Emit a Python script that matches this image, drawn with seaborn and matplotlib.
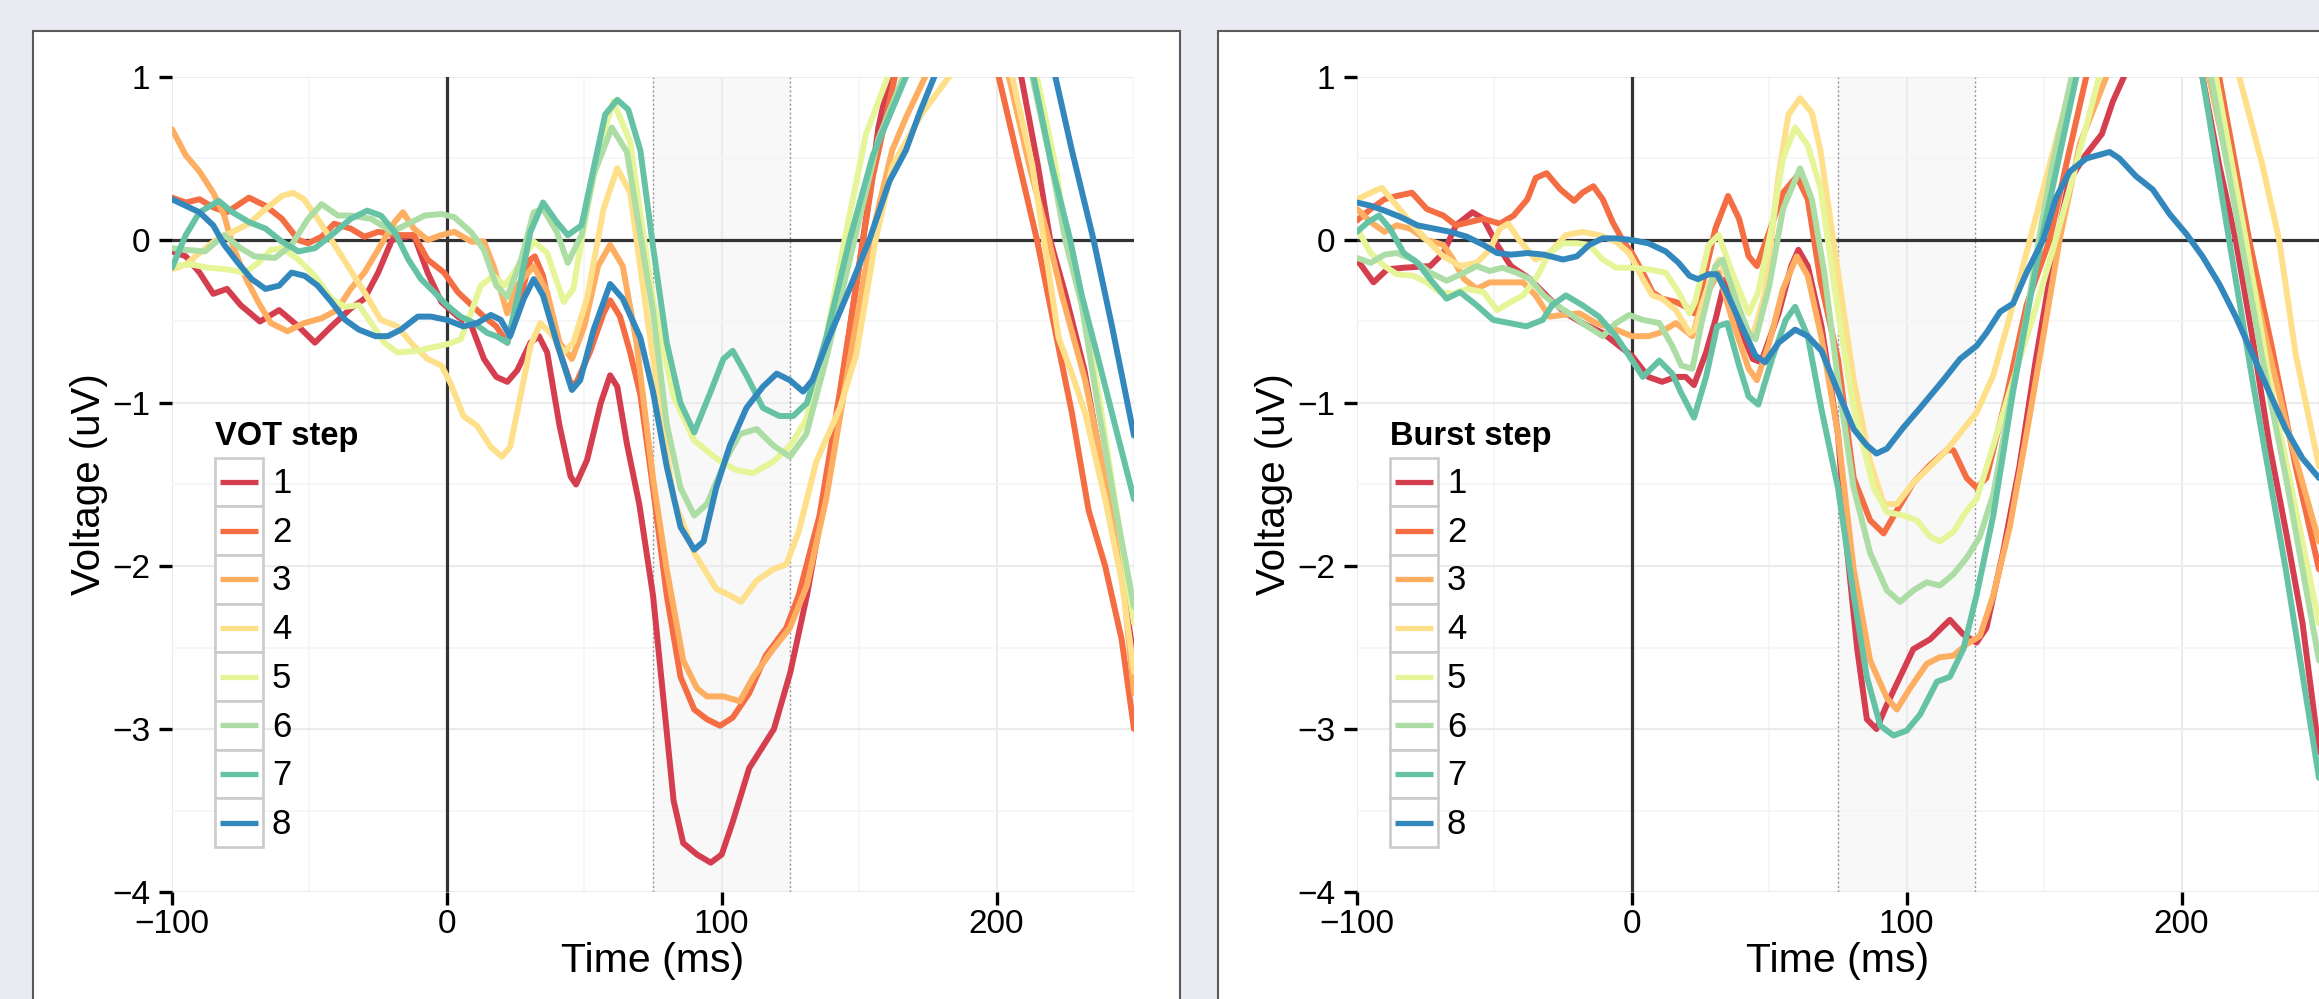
import matplotlib
matplotlib.use("Agg")
import matplotlib.pyplot as plt
import pandas as pd
import seaborn as sns
from matplotlib.patches import Rectangle
from matplotlib.lines import Line2D
from matplotlib.legend_handler import HandlerBase

plt.rcParams['font.family'] = ['Liberation Sans', 'DejaVu Sans']

# ---------------- data (time ms, voltage uV) ----------------
STEPS = ['1', '2', '3', '4', '5', '6', '7', '8']
PANEL_TITLES = ['VOT step', 'Burst step']
X_TICKS = [-100, 0, 100, 200]
Y_TICKS = [-4, -3, -2, -1, 0, 1]
WINDOW = (75, 125)

VOT_1 = [(-100,-0.07),(-95,-0.1),(-90,-0.2),(-85,-0.33),(-80,-0.3),(-75,-0.4),(-68,-0.5),(-61,-0.43),(-54,-0.53),(-48,-0.63),(-42,-0.53),(-35,-0.42),(-30,-0.36),(-25,-0.2),(-20,0.0),(-15,0.02),(-12,0.03),(-7,-0.2),(-2,-0.38),(4,-0.47),(9,-0.53),(13.5,-0.73),(18,-0.84),(22,-0.87),(25.6,-0.8),(30.4,-0.63),(33.5,-0.59),(36.5,-0.69),(41,-1.14),(45,-1.45),(47,-1.5),(51,-1.35),(56,-1.0),(59.4,-0.83),(62,-0.9),(65.5,-1.25),(70,-1.62),(75,-2.18),(79,-2.85),(82.5,-3.44),(86,-3.7),(91,-3.77),(96,-3.82),(100,-3.77),(104,-3.57),(110,-3.24),(119,-3.0),(125,-2.65),(131,-2.18),(138,-1.52),(145,-0.73),(152.5,0.13),(157,0.69),(161,1.0),(185,2.6),(209,1.0),(215,0.46),(219.5,0.0),(225,-0.33),(232,-0.8),(239.5,-1.5),(245,-2.0),(250,-2.58)]
VOT_2 = [(-100,0.26),(-95,0.23),(-90,0.25),(-85,0.2),(-80,0.17),(-72,0.26),(-66,0.21),(-60,0.13),(-54,0.0),(-50.5,-0.02),(-45.6,0.02),(-41,0.1),(-35,0.07),(-30,0.02),(-25,0.05),(-18,0.03),(-12,0.03),(-7,-0.12),(-1,-0.2),(4,-0.32),(9,-0.4),(13.5,-0.47),(18,-0.53),(22,-0.63),(25.6,-0.43),(30.4,-0.12),(32,-0.1),(35,-0.22),(40,-0.63),(45,-0.88),(47,-0.88),(52,-0.69),(57,-0.45),(59.4,-0.37),(63,-0.47),(66.7,-0.69),(70.4,-0.95),(75,-1.52),(80,-2.18),(85,-2.68),(90,-2.88),(94.6,-2.94),(99.4,-2.98),(104,-2.93),(110,-2.78),(116,-2.55),(123.5,-2.38),(128,-2.18),(135.6,-1.69),(143,-0.93),(149,-0.27),(155,0.39),(163,1.0),(182,2.6),(200.8,1.0),(214.7,0.0),(221,-0.53),(227.4,-1.06),(233.5,-1.66),(239.5,-2.0),(245.5,-2.45),(250,-3.0)]
VOT_3 = [(-100,0.68),(-95,0.52),(-90,0.42),(-85,0.29),(-81,0.15),(-78,-0.03),(-73,-0.24),(-68,-0.4),(-64,-0.51),(-58,-0.56),(-52,-0.51),(-45.6,-0.48),(-40,-0.43),(-35,-0.3),(-30,-0.2),(-24,-0.03),(-19,0.11),(-16,0.17),(-12,0.07),(-7,0.0),(-2,0.03),(2.7,0.05),(9,-0.01),(13.5,-0.01),(17,-0.16),(22,-0.45),(25.6,-0.28),(31.6,-0.16),(36.5,-0.32),(41,-0.63),(45.5,-0.73),(50,-0.53),(55,-0.16),(59.4,-0.03),(64,-0.16),(69,-0.63),(75,-1.46),(80,-2.02),(86,-2.58),(91,-2.75),(94.6,-2.8),(100.6,-2.8),(106.6,-2.83),(111.5,-2.68),(118.7,-2.51),(124.8,-2.38),(131,-2.12),(138,-1.59),(145.3,-0.86),(153.7,-0.04),(162,0.55),(167,0.75),(174,1.0),(190,2.0),(204.5,1.0),(212,0.45),(219,0.0),(223.8,-0.34),(232.2,-0.86),(239.5,-1.46),(245.5,-2.02),(250,-2.78)]
VOT_4 = [(-100,-0.18),(-95,-0.15),(-90,-0.08),(-84,0.0),(-78,0.05),(-72,0.1),(-66,0.19),(-60,0.27),(-56,0.29),(-52,0.25),(-47,0.13),(-42,0.0),(-36,-0.16),(-30,-0.32),(-24,-0.49),(-18,-0.53),(-12,-0.65),(-7,-0.73),(-2,-0.77),(1.4,-0.88),(6,-1.08),(11,-1.14),(16,-1.27),(20,-1.33),(23,-1.27),(27,-0.94),(30.4,-0.65),(34,-0.51),(37.7,-0.57),(42.5,-0.69),(46,-0.63),(51,-0.36),(57,0.19),(62,0.44),(66.7,0.29),(70.4,-0.17),(75,-0.73),(82.5,-1.59),(90,-1.92),(98,-2.14),(103,-2.18),(107,-2.22),(112.7,-2.09),(118.7,-2.02),(123.5,-1.99),(128,-1.79),(134.4,-1.36),(143,-1.03),(149,-0.7),(156,0.0),(162,0.45),(173,0.78),(182.7,1.0),(195,1.6),(205.7,1.0),(213,0.46),(217.2,0.0),(222.6,-0.6),(227.4,-0.82),(232.2,-1.06),(239.5,-1.59),(245.5,-2.09),(250,-2.65)]
VOT_5 = [(-100,-0.16),(-93,-0.15),(-87,-0.17),(-80,-0.18),(-73.5,-0.2),(-68.6,-0.14),(-64,-0.06),(-60,-0.05),(-54,-0.12),(-48,-0.22),(-42,-0.36),(-37,-0.41),(-32,-0.4),(-27.5,-0.51),(-22.7,-0.63),(-18,-0.69),(-10.6,-0.68),(-5.8,-0.66),(0,-0.64),(5,-0.61),(8.7,-0.45),(12.3,-0.28),(17,-0.22),(21,-0.28),(24.4,-0.2),(29,-0.08),(31.6,-0.01),(36.5,-0.08),(42.5,-0.38),(46,-0.3),(51,0.19),(56,0.6),(60.6,0.85),(66.7,0.6),(70.4,0.16),(75,-0.37),(82.5,-0.96),(90,-1.23),(98,-1.34),(105,-1.41),(111.5,-1.43),(118.7,-1.36),(125,-1.26),(130.8,-1.1),(138,-0.6),(144.7,0.0),(152.5,0.65),(160.4,1.0),(188,2.5),(214.7,1.0),(221.4,0.46),(225.6,0.0),(231,-0.37),(237,-0.93),(243,-1.59),(250,-2.35)]
VOT_6 = [(-100,-0.05),(-95,-0.06),(-88,-0.07),(-81,0.03),(-75,-0.05),(-70,-0.1),(-62.5,-0.11),(-56.5,-0.03),(-50.5,0.13),(-45.6,0.22),(-39.6,0.15),(-35,0.15),(-27.5,0.13),(-20,0.05),(-14,0.1),(-8,0.15),(-2,0.16),(2.7,0.14),(8.7,0.05),(13.5,-0.06),(18,-0.28),(22,-0.35),(27,-0.12),(31.6,0.17),(35,0.19),(40,0.05),(44,-0.14),(49,0.03),(53.4,0.4),(60,0.69),(65.5,0.54),(70.4,0.03),(75,-0.44),(80,-1.13),(85,-1.52),(90,-1.69),(94.6,-1.62),(102,-1.33),(106.6,-1.19),(112.7,-1.16),(118.7,-1.26),(124.8,-1.33),(130.8,-1.19),(138,-0.73),(148.3,0.0),(157,0.62),(166,1.0),(190,2.4),(213,1.0),(220,0.46),(225,0.0),(231,-0.4),(237,-1.03),(243,-1.62),(250,-2.25)]
VOT_7 = [(-100,-0.17),(-95,0.03),(-90,0.17),(-83,0.24),(-78,0.17),(-72,0.11),(-66,0.07),(-60,-0.01),(-54,-0.07),(-48,-0.05),(-42,0.03),(-35,0.13),(-29,0.18),(-24,0.15),(-19,0.05),(-14,-0.12),(-9.4,-0.24),(-4.6,-0.32),(0,-0.4),(5,-0.47),(10,-0.51),(14.7,-0.57),(18,-0.59),(22,-0.63),(25.6,-0.36),(30.4,0.05),(35,0.23),(40,0.11),(44,0.03),(49,0.09),(53.4,0.44),(57.6,0.77),(62,0.86),(66,0.8),(70.4,0.55),(75,-0.04),(80,-0.63),(85,-1.0),(90,-1.18),(96,-0.93),(100.6,-0.73),(104,-0.68),(109,-0.83),(115,-1.03),(121,-1.08),(126,-1.08),(131,-1.0),(138,-0.6),(146.5,0.0),(155,0.52),(167,1.0),(190,2.4),(213.5,1.0),(220,0.46),(226.8,0.0),(231,-0.34),(237,-0.73),(243,-1.13),(250,-1.59)]
VOT_8 = [(-100,0.25),(-95,0.21),(-90,0.17),(-85,0.09),(-81,-0.03),(-76,-0.14),(-71,-0.24),(-66,-0.3),(-61,-0.28),(-56.5,-0.2),(-51.7,-0.22),(-47,-0.28),(-42,-0.38),(-37,-0.49),(-32,-0.55),(-26,-0.59),(-21.5,-0.59),(-16.7,-0.55),(-10.6,-0.47),(-5.8,-0.47),(0,-0.49),(6,-0.53),(11,-0.51),(16,-0.46),(19.6,-0.49),(23,-0.59),(28,-0.36),(31.6,-0.24),(35,-0.34),(40,-0.63),(45.5,-0.92),(48.5,-0.86),(53.4,-0.55),(59.4,-0.27),(64,-0.36),(70.4,-0.6),(75,-0.93),(80,-1.39),(85,-1.76),(90,-1.9),(93.4,-1.85),(98,-1.52),(103,-1.26),(109,-1.03),(115,-0.9),(120,-0.82),(124.8,-0.86),(129.6,-0.93),(133,-0.86),(139,-0.6),(146.5,-0.3),(153.7,0.0),(161,0.36),(167,0.55),(172,0.78),(177.3,1.0),(200,2.2),(221.4,1.0),(227.4,0.55),(235.3,0.0),(242,-0.53),(250,-1.2)]

BURST_1 = [(-100,-0.12),(-94,-0.26),(-89,-0.18),(-83,-0.17),(-73.4,-0.16),(-68.6,-0.08),(-64,0.09),(-58,0.17),(-54,0.13),(-49,-0.03),(-44,-0.16),(-37,-0.24),(-30,-0.36),(-24,-0.45),(-18,-0.51),(-10.6,-0.57),(-4.6,-0.65),(0,-0.71),(6,-0.84),(11,-0.87),(16,-0.84),(19.6,-0.84),(22.6,-0.89),(27,-0.69),(30.4,-0.49),(34,-0.24),(39,-0.53),(44,-0.73),(47,-0.75),(53.4,-0.45),(58,-0.16),(60.6,-0.06),(64,-0.16),(69,-0.53),(75,-1.19),(78,-1.85),(82,-2.51),(85.5,-2.94),(89,-3.0),(92.8,-2.85),(97.6,-2.68),(102.4,-2.51),(108.5,-2.45),(115.7,-2.33),(120.6,-2.42),(125.4,-2.47),(129,-2.38),(135,-1.92),(141,-1.39),(147,-0.73),(153,-0.14),(159,0.36),(165,0.52),(171,0.65),(175,0.85),(179,1.0),(195,2.0),(207.6,1.0),(213.7,0.46),(219.7,0.0),(225.8,-0.6),(232,-1.26),(238,-1.79),(244,-2.35),(250,-3.14)]
BURST_2 = [(-100,0.12),(-95,0.19),(-90,0.25),(-85.5,0.27),(-80,0.29),(-74.6,0.19),(-68.6,0.15),(-64,0.09),(-59,0.11),(-54,0.13),(-48,0.1),(-43,0.15),(-38,0.25),(-35,0.38),(-31,0.41),(-26,0.31),(-21,0.24),(-18,0.29),(-14,0.33),(-10.6,0.25),(-7,0.11),(-3.4,0.0),(0,-0.08),(4,-0.2),(7.5,-0.32),(11,-0.36),(16,-0.38),(19.6,-0.41),(22.6,-0.45),(25.6,-0.28),(30.4,0.07),(35,0.27),(39,0.13),(42.5,-0.1),(45.5,-0.16),(50,0.05),(55,0.29),(60,0.39),(64,0.25),(68.6,-0.25),(75,-0.73),(80.7,-1.46),(86.7,-1.72),(91.6,-1.8),(96.4,-1.66),(102.4,-1.49),(108.5,-1.38),(114.5,-1.29),(117,-1.29),(121.8,-1.46),(125.4,-1.52),(129,-1.46),(136.3,-0.96),(143.6,-0.4),(152,0.0),(158,0.46),(165.3,1.0),(190,2.5),(213.7,1.0),(224.6,0.0),(233,-0.67),(241.5,-1.39),(250,-2.02)]
BURST_3 = [(-100,0.19),(-95,0.11),(-90,0.05),(-85.5,0.09),(-80.7,0.07),(-74.6,0.0),(-68.6,-0.03),(-65,-0.12),(-61,-0.24),(-56.5,-0.3),(-51.7,-0.26),(-45.6,-0.26),(-39.6,-0.26),(-35,-0.34),(-30,-0.47),(-25,-0.46),(-19,-0.45),(-13,-0.51),(-5.8,-0.55),(0,-0.59),(6,-0.59),(10,-0.57),(16,-0.51),(22,-0.59),(25.6,-0.38),(31.6,-0.2),(36.5,-0.49),(42.5,-0.79),(45.5,-0.86),(50,-0.63),(55,-0.3),(60,-0.1),(64,-0.22),(69,-0.6),(75,-1.19),(80.7,-2.02),(86.7,-2.58),(92.8,-2.81),(96.4,-2.88),(101.2,-2.75),(107.3,-2.6),(112,-2.56),(117,-2.55),(121.8,-2.48),(126.6,-2.43),(131.5,-2.18),(137.5,-1.76),(143.6,-1.19),(149.6,-0.6),(155.6,0.0),(163,0.59),(172.6,1.0),(192,2.2),(210,1.0),(222.8,0.0),(230.6,-0.6),(239,-1.19),(250,-1.85)]
BURST_4 = [(-100,0.25),(-95,0.29),(-91,0.32),(-85.5,0.21),(-80.7,0.11),(-74.6,0.0),(-68.6,-0.1),(-62.5,-0.16),(-56.5,-0.14),(-51.7,-0.06),(-48,0.07),(-45,0.1),(-41,0.0),(-35,-0.12),(-30,-0.08),(-24,0.03),(-18,0.05),(-12,0.03),(-5.8,-0.01),(-1,-0.08),(4,-0.24),(7.5,-0.34),(11,-0.36),(16,-0.43),(21,-0.57),(23,-0.55),(27,-0.32),(31.6,-0.12),(36.5,-0.28),(41,-0.53),(44,-0.59),(48.5,-0.32),(53.4,0.4),(57,0.77),(61.2,0.87),(65.5,0.78),(68.6,0.55),(75,-0.2),(80.7,-0.86),(86.7,-1.36),(91.6,-1.62),(96.4,-1.62),(102.4,-1.49),(108.5,-1.39),(114.5,-1.29),(120.6,-1.16),(125.4,-1.06),(131.5,-0.83),(137.5,-0.47),(144.8,0.0),(152,0.46),(160.5,1.0),(195,2.6),(221,1.0),(229.4,0.46),(235.5,0.0),(241.5,-0.7),(250,-1.39)]
BURST_5 = [(-100,0.07),(-95,-0.08),(-90,-0.16),(-85.5,-0.21),(-79.5,-0.22),(-74.6,-0.26),(-70,-0.32),(-65,-0.33),(-60,-0.3),(-54,-0.32),(-49,-0.43),(-44,-0.38),(-39.6,-0.34),(-35,-0.24),(-30,-0.08),(-25,-0.02),(-20,-0.02),(-15.5,-0.03),(-10.6,-0.12),(-5.8,-0.17),(0,-0.17),(6,-0.18),(12.3,-0.2),(17,-0.32),(21,-0.45),(23,-0.38),(28,-0.03),(31.6,0.03),(36.5,-0.2),(42.5,-0.45),(46,-0.32),(51,0.09),(55,0.5),(59.4,0.69),(64,0.58),(68.6,0.32),(75,-0.44),(80.7,-1.03),(88,-1.52),(92.8,-1.67),(98.8,-1.69),(103.7,-1.72),(108.5,-1.82),(112,-1.85),(117,-1.79),(121.8,-1.66),(125.4,-1.59),(131.5,-1.26),(138.7,-0.86),(146,-0.47),(153,-0.07),(160.5,0.39),(170,1.0),(192,2.3),(212.5,1.0),(223.4,0.0),(232,-0.86),(240,-1.52),(250,-2.35)]
BURST_6 = [(-100,-0.11),(-95,-0.14),(-90,-0.09),(-85.5,-0.08),(-79.5,-0.12),(-73.4,-0.2),(-67.4,-0.25),(-61,-0.2),(-56.5,-0.16),(-51.7,-0.19),(-47,-0.17),(-42,-0.2),(-37,-0.24),(-32,-0.34),(-27.5,-0.4),(-22.7,-0.45),(-18,-0.51),(-10.6,-0.59),(-5.8,-0.51),(-1,-0.46),(4,-0.49),(10,-0.51),(14.7,-0.65),(18,-0.77),(22,-0.79),(25.6,-0.49),(30.4,-0.16),(33,-0.12),(37.7,-0.36),(42.5,-0.57),(45,-0.61),(50,-0.28),(55,0.19),(61.2,0.44),(65.5,0.25),(70,-0.2),(75,-0.86),(80.7,-1.52),(86.7,-1.92),(92.8,-2.15),(97.6,-2.22),(102.4,-2.15),(107.3,-2.1),(112,-2.12),(117,-2.05),(121.8,-1.95),(126.6,-1.82),(131.5,-1.56),(137.5,-1.0),(143.6,-0.47),(148,0.0),(153,0.46),(160,1.0),(188,2.4),(210.7,1.0),(221.6,0.0),(229.4,-0.73),(238,-1.46),(250,-2.58)]
BURST_7 = [(-100,0.05),(-96,0.11),(-92,0.15),(-88,0.07),(-83,-0.08),(-78,-0.14),(-73.4,-0.24),(-67.4,-0.36),(-62.5,-0.32),(-56.5,-0.4),(-50.5,-0.49),(-44.4,-0.51),(-38.4,-0.53),(-32.4,-0.49),(-29,-0.4),(-24,-0.34),(-18,-0.4),(-12,-0.47),(-5.8,-0.59),(-1,-0.71),(4,-0.84),(10,-0.74),(14.7,-0.82),(18,-0.94),(22.6,-1.09),(27,-0.84),(31,-0.53),(34.7,-0.51),(39,-0.77),(42.5,-0.96),(46,-1.01),(51,-0.73),(56,-0.49),(59.4,-0.41),(64,-0.59),(69,-1.04),(75,-1.52),(80.7,-2.18),(85.5,-2.68),(90.4,-2.98),(95.2,-3.04),(100,-3.01),(104.9,-2.91),(111,-2.71),(115.7,-2.68),(120.6,-2.51),(125.4,-2.18),(131.5,-1.69),(138.7,-0.93),(144.8,-0.37),(149,0.0),(155.6,0.52),(161.7,1.0),(185,2.4),(207.6,1.0),(217.3,0.0),(225.8,-0.86),(237.9,-2.02),(250,-3.3)]
BURST_8 = [(-100,0.23),(-95,0.21),(-90,0.18),(-84,0.14),(-78,0.09),(-72,0.07),(-66,0.05),(-60,0.02),(-54,-0.03),(-49,-0.08),(-44,-0.09),(-38,-0.08),(-32,-0.09),(-25,-0.12),(-20,-0.1),(-15.5,-0.03),(-10.6,0.01),(-5.8,0.01),(0,0.0),(6,-0.02),(12.3,-0.07),(17,-0.14),(21,-0.22),(24,-0.24),(28,-0.21),(31,-0.21),(35,-0.34),(40,-0.53),(45,-0.71),(48.5,-0.75),(53.4,-0.63),(59.4,-0.55),(64,-0.59),(69,-0.68),(75,-0.93),(80.7,-1.16),(85.5,-1.26),(89,-1.31),(92.8,-1.28),(98.8,-1.15),(104.9,-1.03),(113.3,-0.86),(119.4,-0.73),(125.4,-0.65),(129,-0.57),(134,-0.44),(138.7,-0.39),(143.6,-0.2),(149.6,0.0),(154.4,0.26),(159.3,0.42),(165.3,0.5),(173.8,0.54),(177.4,0.5),(183.5,0.39),(189.5,0.31),(195.6,0.16),(201.6,0.04),(207.6,-0.1),(213.7,-0.27),(219.7,-0.47),(225.8,-0.7),(231.8,-0.93),(237.9,-1.16),(244,-1.34),(250,-1.46)]

VOT_SERIES = [VOT_1, VOT_2, VOT_3, VOT_4, VOT_5, VOT_6, VOT_7, VOT_8]
BURST_SERIES = [BURST_1, BURST_2, BURST_3, BURST_4, BURST_5, BURST_6, BURST_7, BURST_8]


def to_frame(series_list):
    rows = []
    for step, pts in zip(STEPS, series_list):
        for t, v in pts:
            rows.append({'time': t, 'voltage': v, 'step': step})
    return pd.DataFrame(rows)


# ---------------- layout ----------------
W, H, DPI = 2319, 999, 100
fig = plt.figure(figsize=(W / DPI, H / DPI), dpi=DPI, facecolor='#EAEAF2')


def fig_rect(x0, y0, x1, y1):
    return [x0 / W, 1 - y1 / H, (x1 - x0) / W, (y1 - y0) / H]


for (x0, x1) in [(33, 1180), (1218, 2380)]:
    fig.add_artist(Rectangle((x0 / W, 1 - 1040 / H), (x1 - x0) / W, (1040 - 31) / H,
                             transform=fig.transFigure, facecolor='white',
                             edgecolor='#5A5A5A', linewidth=1.5, zorder=-1))

# ColorBrewer Spectral, 8 classes
palette = sns.color_palette(['#D53E4F', '#F46D43', '#FDAE61', '#FEE08B',
                             '#E6F598', '#ABDDA4', '#66C2A5', '#3288BD'])


class BoxedLine(HandlerBase):
    def create_artists(self, legend, orig_handle, xdescent, ydescent, width, height, fontsize, trans):
        box = Rectangle((-xdescent, -ydescent), width, height, facecolor='white',
                        edgecolor='#CBCBCB', linewidth=1.9, transform=trans)
        pad = 0.1 * width
        yc = -ydescent + height / 2
        ln = Line2D([-xdescent + pad, -xdescent + width - pad], [yc, yc],
                    color=orig_handle.get_color(), linewidth=3.8,
                    solid_capstyle='butt', transform=trans)
        return [box, ln]


axes_px = [(172, 77, 1134, 892), (1357, 77, 2319, 892)]
legend_px = [(215, 421), (1390, 421)]

for i, (series, title) in enumerate(zip([VOT_SERIES, BURST_SERIES], PANEL_TITLES)):
    ax = fig.add_axes(fig_rect(*axes_px[i]))
    ax.set_facecolor('none')
    df = to_frame(series)

    ax.axvspan(WINDOW[0], WINDOW[1], color='#F8F8F8', zorder=0.3, lw=0)
    ax.set_axisbelow(True)
    ax.set_xticks(X_TICKS)
    ax.set_xticks([-50, 50, 150, 250], minor=True)
    ax.set_yticks(Y_TICKS)
    ax.set_yticks([-3.5, -2.5, -1.5, -0.5, 0.5], minor=True)
    ax.grid(True, which='major', color='#EBEBEB', linewidth=1.5)
    ax.grid(True, which='minor', color='#F5F5F5', linewidth=1.2)

    for xv in WINDOW:
        ax.axvline(xv, color='#999999', lw=1.0, ls=(0, (1.6, 1.6)), zorder=0.6)
    ax.axhline(0, color='#333333', lw=2.3, zorder=1.5)
    ax.axvline(0, color='#333333', lw=2.3, zorder=1.5)

    sns.lineplot(data=df, x='time', y='voltage', hue='step', hue_order=STEPS,
                 palette=palette, estimator=None, sort=True, linewidth=4.3,
                 legend=False, ax=ax, zorder=2,
                 solid_joinstyle='round', solid_capstyle='round')

    ax.set_xlim(-100, 250)
    ax.set_ylim(-4, 1)
    for s in ax.spines.values():
        s.set_visible(False)
    ax.tick_params(which='major', length=9.5, width=2.4, color='black',
                   labelcolor='black', labelsize=24)
    ax.tick_params(axis='y', pad=6)
    ax.tick_params(axis='x', pad=3)
    ax.tick_params(which='minor', length=0)

    ax.set_xlabel('Time (ms)', fontsize=29.5)
    ax.xaxis.set_label_coords(0.5, (892 - 942) / 815)
    ax.set_ylabel('Voltage (uV)', fontsize=29)
    ax.yaxis.set_label_coords((108 - 172) / 962, 0.5)

    handles = [Line2D([], [], color=c) for c in palette]
    lx, ly = legend_px[i]
    leg = ax.legend(handles, STEPS, title=title, loc='upper left',
                    bbox_to_anchor=(lx / W, 1 - ly / H), bbox_transform=fig.transFigure,
                    frameon=False, fontsize=25,
                    title_fontproperties={'weight': 'bold', 'size': 23.5},
                    handlelength=1.38, handleheight=1.78, labelspacing=0,
                    handletextpad=0.26, borderpad=0, borderaxespad=0,
                    alignment='left', handler_map={Line2D: BoxedLine()})
    leg._legend_box.sep = 4

fig.savefig('out.png', dpi=DPI, facecolor=fig.get_facecolor())
